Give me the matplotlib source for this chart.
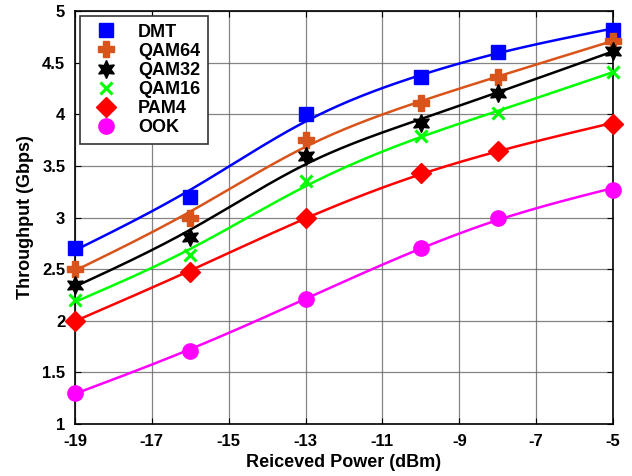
import numpy as np
import matplotlib
matplotlib.use('Agg')
import matplotlib.pyplot as plt

plt.rcParams['font.family'] = ['Liberation Sans', 'DejaVu Sans']
plt.rcParams['font.weight'] = 'bold'
plt.rcParams['axes.unicode_minus'] = False

# received optical power (dBm) at each measurement
power = [-19, -16, -13, -10, -8, -5]

# measured throughput (Gbps) per modulation format
dmt = [2.70, 3.20, 4.00, 4.36, 4.60, 4.82]
qam64 = [2.50, 3.00, 3.75, 4.11, 4.36, 4.71]
qam32 = [2.35, 2.81, 3.60, 3.92, 4.21, 4.61]
qam16 = [2.20, 2.64, 3.35, 3.79, 4.01, 4.41]
pam4 = [2.00, 2.47, 3.00, 3.43, 3.64, 3.91]
ook = [1.30, 1.71, 2.21, 2.70, 3.00, 3.27]

series = [
    ('DMT', dmt, (0, 0, 1), 's', 10),
    ('QAM64', qam64, (0.85, 0.33, 0.1), 'P', 11),
    ('QAM32', qam32, 'k', (6, 1, 0), 13),
    ('QAM16', qam16, (0, 1, 0), 'x', 8),
    ('PAM4', pam4, 'r', 'D', 10),
    ('OOK', ook, (1, 0, 1), 'o', 11),
]


def smooth_fit(x, y, lam=2.5, h=0.05):
    # discrete smoothing spline: least squares at the data plus a
    # curvature penalty on a fine grid
    grid = np.arange(min(x), max(x) + h / 2, h)
    n = len(grid)
    W = np.zeros((n, n))
    rhs = np.zeros(n)
    for xi, yi in zip(x, y):
        k = int(round((xi - grid[0]) / h))
        W[k, k] += 1.0
        rhs[k] += yi
    D = np.diff(np.eye(n), 2, axis=0)
    A = W + lam / h ** 3 * D.T @ D
    return grid, np.linalg.solve(A, rhs)


fig = plt.figure(figsize=(6.32, 4.76), dpi=100)
ax = fig.add_axes([75 / 632, 1 - 424 / 476, 538 / 632, 413 / 476])

for name, vals, col, mk, ms in series:
    gx, gy = smooth_fit(power, vals)
    ax.plot(gx, gy, color=col, linewidth=1.8)
    ax.plot(power, vals, linestyle='none', marker=mk, color=col,
            markersize=ms, markeredgewidth=2.2 if mk == 'x' else 1,
            label=name, clip_on=False, zorder=5)

ax.set_xlim(-19, -5)
ax.set_ylim(1, 5)
ax.set_xticks(np.arange(-19, -4, 2))
ax.set_yticks(np.arange(1, 5.01, 0.5))
ax.set_yticklabels(['1', '1.5', '2', '2.5', '3', '3.5', '4', '4.5', '5'])
ax.tick_params(labelsize=12, direction='in', length=4, pad=7,
               top=True, right=True)
for lab in ax.get_xticklabels() + ax.get_yticklabels():
    lab.set_fontweight('bold')
ax.grid(True, color='#666666', linewidth=0.9, alpha=0.8)
ax.set_axisbelow(True)
for s in ax.spines.values():
    s.set_linewidth(1.2)

ax.set_xlabel('Reiceved Power (dBm)', fontsize=13, fontweight='bold', labelpad=4)
ax.set_ylabel('Throughput (Gbps)', fontsize=13, fontweight='bold', labelpad=6)

leg = ax.legend(loc='upper left', prop={'size': 13, 'weight': 'bold'},
                frameon=True, fancybox=False, edgecolor='#333333',
                framealpha=1, borderpad=0.4, labelspacing=0.12,
                handlelength=2.0, handletextpad=0.8, borderaxespad=0.3)
leg.get_frame().set_linewidth(1.2)

plt.savefig('out.png', dpi=100)
